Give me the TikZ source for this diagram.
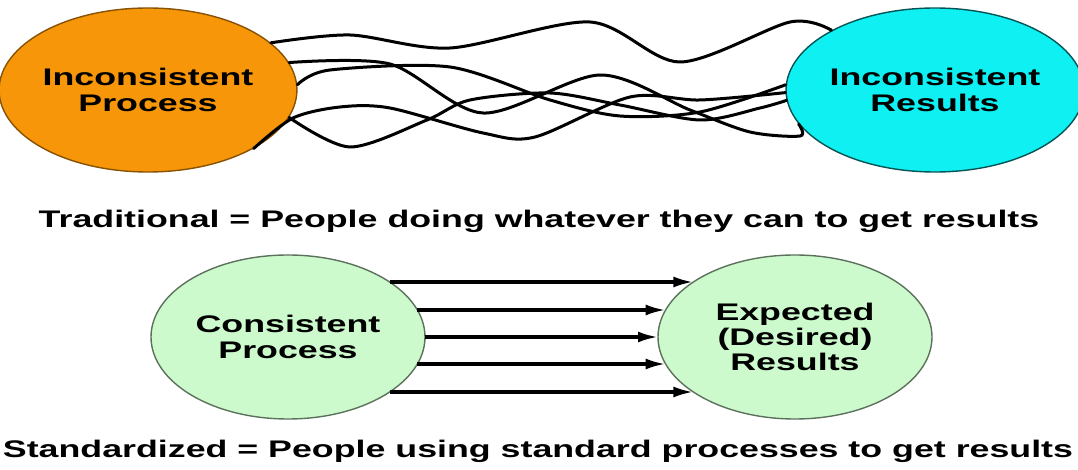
\documentclass[tikz,border=0pt]{standalone}
\usepackage{fontspec}
\setmainfont{Liberation Sans}[FakeStretch=1.49]
\usetikzlibrary{arrows.meta,calc,shapes.geometric}
\definecolor{procorange}{RGB}{247,150,8}
\definecolor{rescyan}{RGB}{14,240,242}
\definecolor{okgreen}{RGB}{205,250,205}

\begin{document}
\begin{tikzpicture}[x=0.5pt,y=-0.5pt,
  blob/.style={ellipse,minimum width=137pt,minimum height=82pt,inner sep=0pt,
    line width=0.7pt,align=center,font=\fontsize{12}{13}\selectfont\bfseries},
  wire/.style={line width=1.5pt,line cap=round},
  flow/.style={line width=1.6pt,-{Latex[length=10pt,width=5.5pt]}},
  caption/.style={anchor=base,font=\fontsize{12}{14}\selectfont\bfseries}]
  \useasboundingbox (0,0) rectangle (1078,470);

  \node[blob,fill=procorange,draw=procorange!55!black] (incp) at (148,90) {Inconsistent\\Process};
  \node[blob,fill=rescyan,draw=rescyan!35!black] (incr) at (935,90) {Inconsistent\\Results};

  \draw[wire] plot[smooth] coordinates {(incp.21) (350,35) (450,48) (590,22) (680,62) (790,22) (incr.150)};
  \draw[wire] plot[smooth] coordinates {(incp.11) (390,64) (483,113) (600,75) (690,110) (750,132) (800,136) (incr.194)};
  \draw[wire] plot[smooth] coordinates {(incp.2) (330,70) (450,67) (550,100) (620,116) (700,112) (incr.178)};
  \draw[wire] plot[smooth] coordinates {(incp.-29) (293,118) (340,107) (390,108) (483,133) (535,137) (630,97) (700,100) (incr.181)};
  \draw[wire] plot[smooth] coordinates {(incp.-11) (350,147) (427,120) (470,100) (550,93) (620,105) (700,120) (760,108) (incr.184)};

  \node[caption] (trad) at (539,228) {Traditional = People doing whatever they can to get results};

  \node[blob,fill=okgreen,draw=okgreen!45!black] (cons) at (288,337) {Consistent\\Process};
  \node[blob,fill=okgreen,draw=okgreen!45!black,font=\fontsize{12}{12.5}\selectfont\bfseries] (expd) at (795,337) {Expected\\(Desired)\\Results};

  \foreach \dy in {-55,-27,0,27,55}
    \draw[flow] ($(cons.center)+({137*sqrt(1-(\dy/82)^2)},\dy)$) -- ($(expd.center)+({-137*sqrt(1-(\dy/82)^2)},\dy)$);

  \node[caption] (std) at (538,458) {Standardized = People using standard processes to get results};
\end{tikzpicture}
\end{document}
